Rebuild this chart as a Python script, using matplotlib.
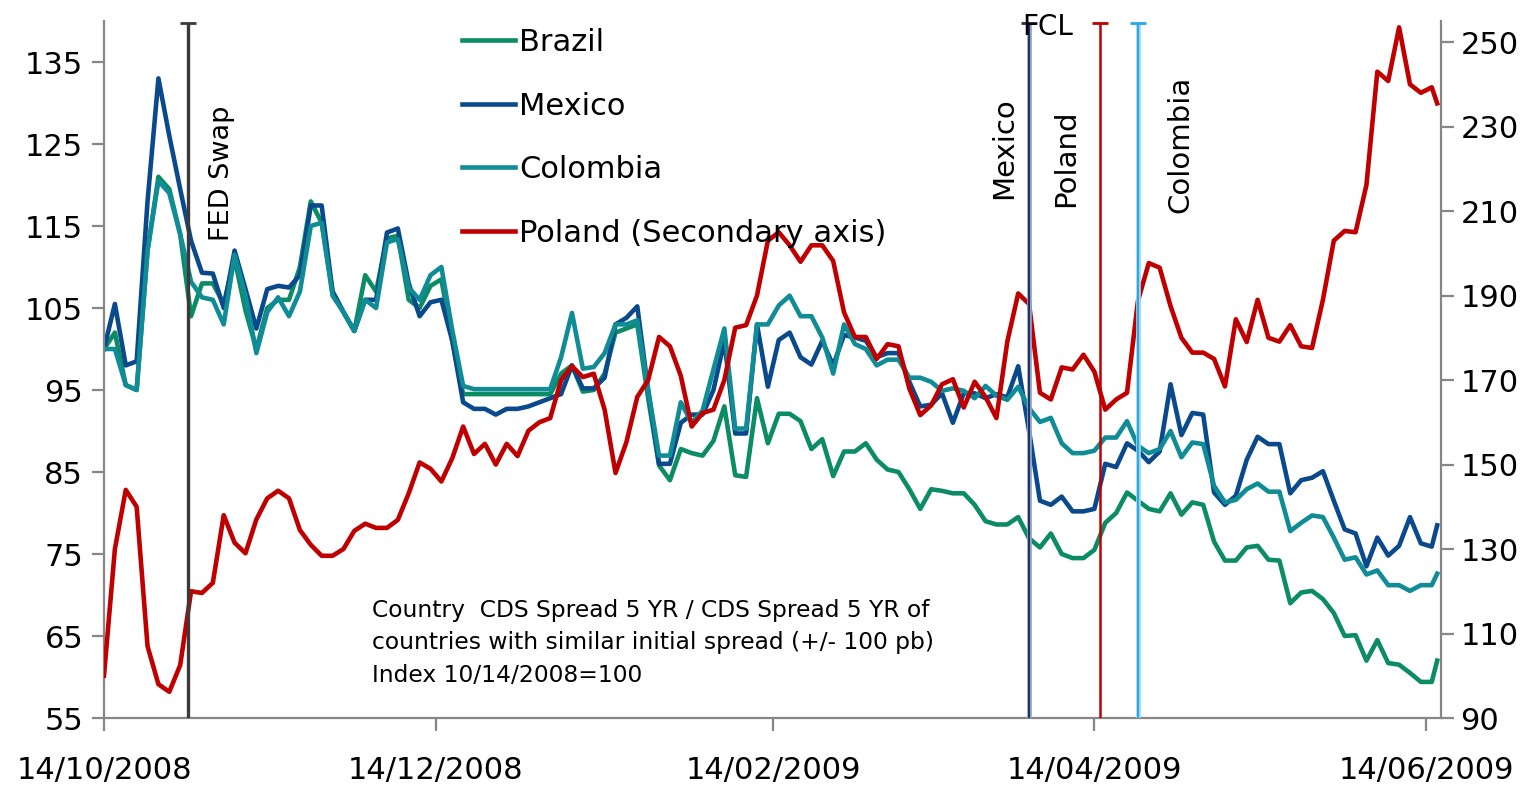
import numpy as np
import pandas as pd
import matplotlib
matplotlib.use("Agg")
import matplotlib.pyplot as plt
import matplotlib.dates as mdates
from matplotlib.lines import Line2D

# observation dates: every second day from 14/10/2008, last obs 16/06/2009
dates = list(pd.date_range("2008-10-14", "2009-06-15", freq="2D")) + [pd.Timestamp("2009-06-16")]

brazil = [100, 102, 95.6, 95.0, 112, 121, 119.5, 114, 104, 108, 108, 105.5, 111, 104.7, 100,
          105, 106, 106, 110, 118, 115.4, 107, 104.5, 102.2, 109, 107, 113.5, 113.8, 106, 105,
          107.7, 108.5, 101, 94.5, 94.5, 94.5, 94.5, 94.5, 94.5, 94.5, 94.5, 94.5, 97, 98,
          94.8, 95, 97, 102, 102.5, 103, 94, 85.8, 84, 87.8, 87.3, 87, 88.8, 93, 84.6, 84.4,
          94, 88.5, 92.1, 92.1, 91.2, 87.8, 89, 84.5, 87.5, 87.5, 88.5, 86.5, 85.3, 85, 82.9,
          80.5, 82.9, 82.7, 82.4, 82.4, 81, 79, 78.6, 78.6, 79.5, 76.9, 75.8, 77.5, 75, 74.5,
          74.5, 75.5, 78.8, 80, 82.5, 81.5, 80.5, 80.2, 82.4, 79.8, 81.3, 81, 76.5, 74.2, 74.2,
          75.8, 76, 74.3, 74.2, 69, 70.3, 70.5, 69.5, 67.8, 65, 65.1, 62, 64.5, 61.7, 61.5,
          60.5, 59.4, 59.4, 62]

mexico = [100, 105.5, 98, 98.5, 118, 133, 126, 119.5, 113.2, 109.3, 109.2, 105, 112, 107.3,
          102.5, 107.3, 107.7, 107.5, 109, 117.5, 117.5, 107, 104.5, 102.2, 106, 106, 114.2,
          114.7, 108, 104, 105.7, 106, 101, 93.5, 92.7, 92.7, 92, 92.7, 92.7, 93, 93.5, 94,
          94.5, 98, 95.2, 95.2, 96.5, 103, 103.8, 105.2, 95, 86, 86, 91, 92, 92, 95, 101,
          89.7, 89.7, 103, 95.4, 101.1, 102, 99, 98.1, 101, 98, 101.7, 101.4, 101, 99, 99.5,
          99.5, 96, 93, 93.2, 94.6, 91, 94.6, 94.6, 94, 94.5, 94.1, 97.9, 90, 81.5, 81, 82,
          80.2, 80.2, 80.5, 86, 85.6, 88.5, 87.6, 86.2, 87.5, 95.7, 89.5, 92.2, 92, 82.5, 81,
          82.1, 86.5, 89.3, 88.4, 88.4, 82.4, 84, 84.3, 85.1, 81.5, 78, 77.5, 73.5, 77, 74.8,
          76, 79.5, 76.3, 75.9, 78.5]

colombia = [100, 100, 95.6, 95, 112, 120.5, 119, 114, 108.2, 106.3, 106, 103, 111.5, 106.5,
            99.5, 104.5, 106.3, 104, 107, 115, 115.4, 106.5, 104.5, 102.2, 106, 105, 113, 113.4,
            107.5, 106, 109, 110, 102.3, 95.5, 95.1, 95.1, 95.1, 95.1, 95.1, 95.1, 95.1, 95.1,
            99, 104.4, 97.6, 97.8, 99.5, 103, 103, 103.5, 95, 87, 87, 93.5, 91, 92.5, 97.5,
            102.5, 90.3, 90.3, 103, 103, 105.3, 106.5, 104, 104, 101.4, 97, 103, 100.6, 100,
            98, 98.7, 98.7, 96.5, 96.5, 96, 94.9, 95.2, 94.9, 94, 95.5, 94.3, 93.8, 95.4, 92.8,
            91.1, 91.6, 88.5, 87.3, 87.3, 87.6, 89.2, 89.2, 91.2, 88.2, 87.3, 87.8, 90, 86.8,
            88.6, 88.4, 83.3, 81.3, 81.6, 82.9, 83.6, 82.6, 82.6, 77.8, 78.8, 79.7, 79.5, 77,
            74.3, 74.6, 72.5, 73, 71.2, 71.2, 70.5, 71.2, 71.2, 72.6]

poland = [100, 130, 144, 140, 107, 98, 96.2, 102.5, 120, 119.6, 122, 138, 131.5, 129, 137,
          142, 143.8, 142, 134.5, 131, 128.4, 128.4, 130, 134.3, 136, 135, 135, 136.9, 143.2,
          150.5, 149, 146, 151.5, 159, 152.5, 154.9, 150, 154.9, 152, 158, 160, 161, 170,
          173.3, 170.7, 171.5, 163, 148, 155.3, 166, 170, 180.2, 178, 171, 159, 162.2, 163,
          170, 182.4, 183, 190, 203, 205, 201.9, 198, 201.9, 201.9, 198.2, 186, 180.2, 180.2,
          175, 178.5, 178, 168, 161.7, 164, 169, 170.2, 163.5, 169.6, 166, 161, 179.1, 190.5,
          188, 167, 165.4, 173, 172.5, 176, 172, 163, 165.4, 167, 188.7, 197.7, 196.6, 187.5,
          180, 176.5, 176.5, 175, 168.5, 184.4, 179, 189, 180, 179.1, 183, 178, 177.6, 189,
          203, 205.3, 205, 216.2, 243, 240.8, 253.5, 240, 238, 239.3, 235.5]

# event lines
fed_swap = pd.Timestamp("2008-10-29 12:00")
fcl_dates = [pd.Timestamp("2009-04-02"), pd.Timestamp("2009-04-15"), pd.Timestamp("2009-04-22")]

tick_dates = [pd.Timestamp(d) for d in ["2008-10-14", "2008-12-14", "2009-02-14",
                                          "2009-04-14", "2009-06-14"]]
left_ticks = [55, 65, 75, 85, 95, 105, 115, 125, 135]
right_ticks = [90, 110, 130, 150, 170, 190, 210, 230, 250]

c_bra = "#0c8c64"
c_mex = "#0a4a8c"
c_col = "#108c96"
c_pol = "#c00000"
grey = "#868686"

plt.rcParams["font.family"] = "DejaVu Sans"

W, H = 1537, 785
fig = plt.figure(figsize=(W / 100, H / 100), dpi=100)
ax = fig.add_axes([104 / W, 1 - 718 / H, (1441 - 104) / W, (718 - 21) / H])
ax2 = ax.twinx()

lw = 3.3
ax.plot(dates, brazil, color=c_bra, lw=lw, label="Brazil", solid_joinstyle="round")
ax.plot(dates, mexico, color=c_mex, lw=lw, label="Mexico", solid_joinstyle="round")
ax.plot(dates, colombia, color=c_col, lw=lw, label="Colombia", solid_joinstyle="round")
ax2.plot(dates, poland, color=c_pol, lw=lw, label="Poland (Secondary axis)",
         solid_joinstyle="round")

ax.set_ylim(55, 140)
ax2.set_ylim(90, 255)
x0 = mdates.date2num(pd.Timestamp("2008-10-14"))
ax.set_xlim(x0, x0 + 245.7)

# vertical event lines with caps at the top
top = 254.6
ax2.vlines(fed_swap, 90, top, color="#3a3a3a", lw=2.4, zorder=5)
ax2.plot([fed_swap], [top], marker="_", ms=12, mew=2, color="#3a3a3a", zorder=5)
ax2.vlines(fcl_dates[0], 90, top, color="#8ea3c8", lw=3.4, zorder=5)
ax2.vlines(fcl_dates[0], 90, top, color="#1f2f66", lw=1.4, zorder=5)
ax2.plot([fcl_dates[0]], [top], marker="_", ms=12, mew=2, color="#1f2f66", zorder=5)
ax2.vlines(fcl_dates[1], 90, top, color=c_pol, lw=1.8, zorder=5)
ax2.plot([fcl_dates[1]], [top], marker="_", ms=12, mew=2, color=c_pol, zorder=5)
ax2.vlines(fcl_dates[2], 90, top, color="#9ad8f2", lw=3.4, zorder=5)
ax2.vlines(fcl_dates[2], 90, top, color="#2aa8e0", lw=1.4, zorder=5)
ax2.plot([fcl_dates[2]], [top], marker="_", ms=12, mew=2, color="#2aa8e0", zorder=5)

for a in (ax, ax2):
    a.spines["top"].set_visible(False)
    for s in ("left", "right", "bottom"):
        a.spines[s].set_color(grey)
        a.spines[s].set_linewidth(1.6)
ax.spines["right"].set_visible(False)
ax2.spines["left"].set_visible(False)
ax2.spines["bottom"].set_visible(False)

ax.set_yticks(left_ticks)
ax2.set_yticks(right_ticks)
ax.set_xticks([mdates.date2num(d) for d in tick_dates])
ax.set_xticklabels([d.strftime("%d/%m/%Y") for d in tick_dates])
ax.tick_params(axis="y", labelsize=22, length=9, width=1.6, color=grey, pad=6)
ax.tick_params(axis="x", labelsize=22, length=9, width=1.6, color=grey, pad=18)
ax2.tick_params(axis="y", labelsize=22, length=9, width=1.6, color=grey, pad=5)

handles = [Line2D([], [], color=c, lw=lw) for c in (c_bra, c_mex, c_col, c_pol)]
labels = ["Brazil", "Mexico", "Colombia", "Poland (Secondary axis)"]
ax2.legend(handles, labels, loc="upper left", bbox_to_anchor=(462 / W, 1 - 28 / H),
           bbox_transform=fig.transFigure, frameon=False, fontsize=22,
           handlelength=1.75, handletextpad=0.12, labelspacing=1.13,
           borderpad=0, borderaxespad=0)

def ftext(x, y, s, **kw):
    fig.text(x / W, 1 - y / H, s, **kw)

ftext(222, 173, "FED Swap", rotation=90, ha="center", va="center", fontsize=19.5)
ftext(1004, 148, "Mexico", rotation=90, ha="center", va="center", fontsize=21)
ftext(1066, 158, "Poland", rotation=90, ha="center", va="center", fontsize=21)
ftext(1180, 144, "Colombia", rotation=90, ha="center", va="center", fontsize=21)
ftext(1048, 27, "FCL", ha="center", va="center", fontsize=20)
ftext(372, 643, "Country  CDS Spread 5 YR / CDS Spread 5 YR of\n"
      "countries with similar initial spread (+/- 100 pb)\n"
      "Index 10/14/2008=100", ha="left", va="center", fontsize=16.8, linespacing=1.55)

fig.savefig("out.png", dpi=100, facecolor="white")
